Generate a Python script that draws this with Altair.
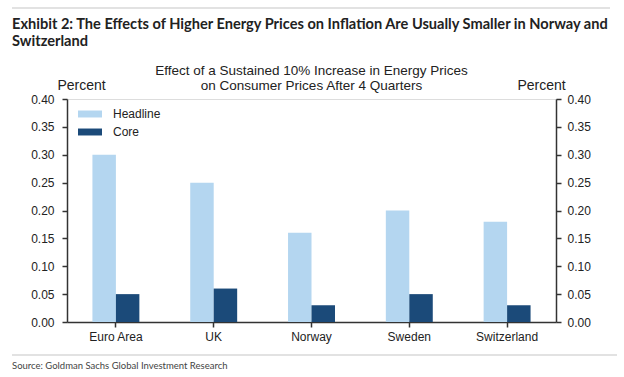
import altair as alt
import pandas as pd

countries = ["Euro Area", "UK", "Norway", "Sweden", "Switzerland"]
headline = [0.30, 0.25, 0.16, 0.20, 0.18]
core = [0.05, 0.06, 0.03, 0.05, 0.03]
series = ["Headline", "Core"]
y_ticks = [0.0, 0.05, 0.10, 0.15, 0.20, 0.25, 0.30, 0.35, 0.40]

title_lines = ["Exhibit 2: The Effects of Higher Energy Prices on Inflation Are Usually Smaller in Norway and",
               "Switzerland"]
subtitle_lines = ["Effect of a Sustained 10% Increase in Energy Prices",
                  "on Consumer Prices After 4 Quarters"]
source_text = "Source: Goldman Sachs Global Investment Research"

rows = []
for c, h, k in zip(countries, headline, core):
    rows.append({"country": c, "series": "Headline", "value": h})
    rows.append({"country": c, "series": "Core", "value": k})
df = pd.DataFrame(rows)

W, H = 489, 223
FONT = "Liberation Sans"
AXC = "#333333"

x_enc = alt.X("country:N", sort=countries,
              scale=alt.Scale(paddingInner=0.52, paddingOuter=0.26),
              axis=alt.Axis(title=None, labelAngle=0, labelFont=FONT, labelFontSize=12,
                            labelColor="#222", domainColor=AXC, tickColor=AXC,
                            tickSize=5, labelPadding=4, domainWidth=1.5, tickWidth=1.5))

bars = alt.Chart(df).mark_bar().encode(
    x=x_enc,
    xOffset=alt.XOffset("series:N", sort=series, scale=alt.Scale(paddingInner=0, paddingOuter=0)),
    y=alt.Y("value:Q", scale=alt.Scale(domain=[0, 0.4]),
            axis=alt.Axis(values=y_ticks, format=".2f", title="Percent", titleAngle=0,
                          titleX=14, titleY=-14, titleAlign="center", titleBaseline="middle",
                          titleFont=FONT, titleFontSize=14, titleFontWeight="normal", titleColor="#222",
                          labelFont=FONT, labelFontSize=12, labelColor="#222",
                          domainColor=AXC, tickColor=AXC, tickSize=5, labelPadding=8,
                          grid=False, domainWidth=1.5, tickWidth=1.5)),
    color=alt.Color("series:N", sort=series,
                    scale=alt.Scale(domain=series, range=["#b4d6f0", "#1b4a79"]),
                    legend=alt.Legend(title=None, orient="none", legendX=11, legendY=3,
                                      symbolType="M-1,-0.29H1V0.29H-1Z", symbolSize=576,
                                      symbolStrokeWidth=0, labelFont=FONT, labelFontSize=12,
                                      labelColor="#222", rowPadding=-6, labelOffset=11)),
)

right_axis = alt.Chart(df).mark_bar(opacity=0).encode(
    x=x_enc,
    y=alt.Y("value:Q", scale=alt.Scale(domain=[0, 0.4]),
            axis=alt.Axis(orient="right", values=y_ticks, format=".2f", title="Percent",
                          titleAngle=0, titleX=-15, titleY=-14, titleAlign="center",
                          titleBaseline="middle", titleFont=FONT, titleFontSize=14,
                          titleFontWeight="normal", titleColor="#222",
                          labelFont=FONT, labelFontSize=12, labelColor="#222",
                          domainColor=AXC, tickColor=AXC, tickSize=5, labelPadding=6,
                          grid=False, domainWidth=1.5, tickWidth=1.5)),
)

ann = pd.DataFrame({"t": [0]})
def txt(text, x, y, size, weight="normal", align="left", font=FONT, color="#222"):
    return alt.Chart(ann).mark_text(text=text, align=align, baseline="middle", fontSize=size,
                                    fontWeight=weight, font=font, color=color).encode(
        x=alt.value(x), y=alt.value(y))

texts = [
    txt(title_lines[0], 12 - 67, 25 - 99, 14.6, "bold", font="Lato", color="#222"),
    txt(title_lines[1], 12 - 67, 42 - 99, 14.6, "bold", font="Lato", color="#222"),
    txt(subtitle_lines[0], W / 2, 71 - 99, 13.5, align="center"),
    txt(subtitle_lines[1], W / 2, 86 - 99, 13.5, align="center"),
    txt(source_text, 12 - 67, 366 - 99, 9.5, font="Lato", color="#444"),
]
line1 = alt.Chart(ann).mark_rule(color="#d9d9d9", strokeWidth=1.5).encode(
    x=alt.value(12 - 67), x2=alt.value(610 - 67), y=alt.value(8 - 99))
line2 = alt.Chart(ann).mark_rule(color="#d9d9d9", strokeWidth=1.5).encode(
    x=alt.value(12 - 67), x2=alt.value(617 - 67), y=alt.value(355 - 99))

chart = alt.layer(bars, right_axis, *texts, line1, line2).resolve_scale(y="independent").properties(
    width=W, height=H,
    autosize=alt.AutoSizeParams(type="none"),
    padding={"left": 67, "top": 99, "right": 68, "bottom": 55},
).configure_view(stroke=None).configure(background="white")

chart.save("out.html", embed_options={"renderer": "svg", "actions": False})
